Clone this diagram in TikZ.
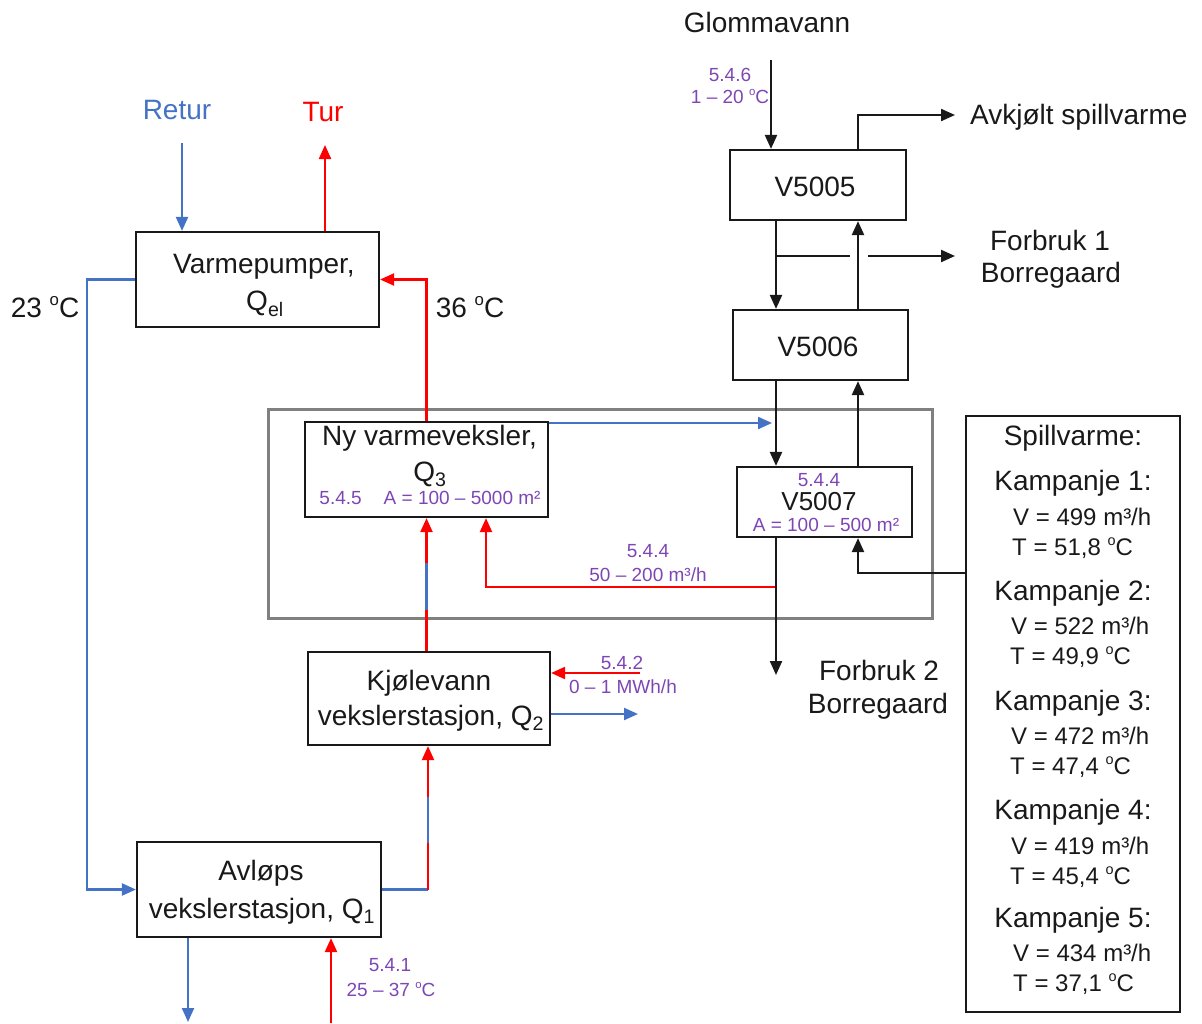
\documentclass[tikz,border=0pt]{standalone}
\usepackage{fontspec}
\setmainfont{Liberation Sans}
\usetikzlibrary{arrows.meta}

\definecolor{flowblue}{RGB}{68,114,196}
\definecolor{flowred}{RGB}{255,0,0}
\definecolor{tagpurple}{RGB}{125,70,180}
\definecolor{ink}{RGB}{25,25,25}
\definecolor{framegray}{RGB}{128,128,128}

% small raised "o" used as degree sign
\newcommand{\degC}{\raisebox{0.42em}{\scalebox{0.6}{o}}C}

\begin{document}
\begin{tikzpicture}[x=1pt,y=-1pt,
  big/.style={font=\fontsize{28}{35}\selectfont, text=ink, inner sep=0pt},
  mid/.style={font=\fontsize{24}{30}\selectfont, text=ink, inner sep=0pt},
  tag/.style={font=\fontsize{19}{23}\selectfont, text=tagpurple, inner sep=0pt},
  unit/.style={draw=ink, line width=2.2pt, inner sep=0pt},
  tip/.style={-{Triangle[length=14pt,width=12pt]}},
  hot/.style={draw=flowred, line width=2.2pt},
  cold/.style={draw=flowblue, line width=2.2pt},
  plain/.style={draw=ink, line width=2.2pt},
]
\useasboundingbox (0,0) rectangle (1202,1023);

% group frame around the new exchanger and V5007
\node[draw=framegray, line width=3pt, inner sep=0pt,
      minimum width=664pt, minimum height=209pt] (grp) at (600,513.5) {};

% ---------- process units ----------
\node[unit, minimum width=243pt, minimum height=95pt] (vp) at (257.5,279.5) {};
\node[big] (vptxt1) at (264,267) {Varmepumper,};
\node[big] (vptxt2) at (265,304) {Q\textsubscript{el}};

\node[unit, minimum width=243pt, minimum height=95pt] (ny) at (426.5,469.5) {};
\node[big] (nytxt1) at (429.5,438) {Ny varmeveksler,};
\node[big] (nytxt2) at (430,474) {Q\textsubscript{3}};
\node[tag] (nytxt3) at (430,498) {5.4.5\hspace{22pt}A = 100 -- 5000 m²};

\node[unit, minimum width=242pt, minimum height=93pt] (kj) at (429,698.5) {};
\node[big] (kjtxt1) at (429,683) {Kjølevann};
\node[big] (kjtxt2) at (431,718) {vekslerstasjon, Q\textsubscript{2}};

\node[unit, minimum width=244pt, minimum height=95pt] (av) at (259,889.5) {};
\node[big] (avtxt1) at (261,873) {Avløps};
\node[big] (avtxt2) at (262,911) {vekslerstasjon, Q\textsubscript{1}};

\node[unit, minimum width=176pt, minimum height=70pt] (v5) at (818,185) {};
\node[big] (v5txt) at (815,187) {V5005};
\node[unit, minimum width=175pt, minimum height=70pt] (v6) at (820.5,345) {};
\node[big] (v6txt) at (818,347) {V5006};
\node[unit, minimum width=175pt, minimum height=70pt] (v7) at (824.5,502) {};
\node[tag] (v7tag) at (819,480) {5.4.4};
\node[big, font=\fontsize{26}{30}\selectfont] (v7txt) at (819,502) {V5007};
\node[tag] (v7area) at (826,525) {A = 100 -- 500 m²};

% ---------- waste heat campaigns ----------
\node[unit, minimum width=214pt, minimum height=596pt] (sv) at (1073,714) {};
\node[big] (svhead) at (1073,438) {Spillvarme:};
\node[big] (k1) at (1073,483) {Kampanje 1:};
\node[mid, anchor=west] (k1v) at (1013,517) {V = 499 m³/h};
\node[mid, anchor=west] (k1t) at (1012,548) {T = 51,8 \degC};
\node[big] (k2) at (1073,593) {Kampanje 2:};
\node[mid, anchor=west] (k2v) at (1011,626) {V = 522 m³/h};
\node[mid, anchor=west] (k2t) at (1010,657) {T = 49,9 \degC};
\node[big] (k3) at (1073,703) {Kampanje 3:};
\node[mid, anchor=west] (k3v) at (1011,736) {V = 472 m³/h};
\node[mid, anchor=west] (k3t) at (1010,767) {T = 47,4 \degC};
\node[big] (k4) at (1073,812) {Kampanje 4:};
\node[mid, anchor=west] (k4v) at (1011,846) {V = 419 m³/h};
\node[mid, anchor=west] (k4t) at (1010,877) {T = 45,4 \degC};
\node[big] (k5) at (1073,920) {Kampanje 5:};
\node[mid, anchor=west] (k5v) at (1013,953) {V = 434 m³/h};
\node[mid, anchor=west] (k5t) at (1013,984) {T = 37,1 \degC};

% ---------- free labels ----------
\node[big, text=flowblue] (retur) at (177,110) {Retur};
\node[big, text=flowred] (tur) at (323,112) {Tur};
\node[big] (t23) at (45,307) {23 \degC};
\node[big] (t36) at (470,307) {36 \degC};
\node[big] (glomma) at (767,22) {Glommavann};
\node[big, anchor=west] (avk) at (970,117) {Avkjølt spillvarme};
\node[big] (f1a) at (1050,240) {Forbruk 1};
\node[big] (f1b) at (1051,275) {Borregaard};
\node[big] (f2a) at (879,670) {Forbruk 2};
\node[big] (f2b) at (878,706) {Borregaard};

\node[tag] (l546a) at (730,75) {5.4.6};
\node[tag] (l546b) at (730,97) {1 -- 20 \degC};
\node[tag] (l544a) at (648,551) {5.4.4};
\node[tag] (l544b) at (648,575) {50 -- 200 m³/h};
\node[tag] (l542a) at (622,663) {5.4.2};
\node[tag] (l542b) at (623,687) {0 -- 1 MWh/h};
\node[tag] (l541a) at (390,965) {5.4.1};
\node[tag] (l541b) at (391,990) {25 -- 37 \degC};

% ---------- end points and columns ----------
\coordinate (returin) at (182,143);
\coordinate (turout) at (325,145);
\coordinate (avdrain) at (188,1022);
\coordinate (sewerin) at (331,1023);
\coordinate (kjin) at (640,673);
\coordinate (kjout) at (638,714);
\coordinate (nyblue) at (772,423);
\coordinate (tap) at (776,587);
\coordinate (nyret) at (486,0);
\coordinate (gin) at (771,60);
\coordinate (down) at (776,0);
\coordinate (up) at (858,0);
\coordinate (avkend) at (955,115);
\coordinate (f1gapa) at (850,256);
\coordinate (f1gapb) at (868,256);
\coordinate (f1end) at (955,256);
\coordinate (f2end) at (776,675);
\coordinate (svtap) at (966,573);
\coordinate (avbend) at (428,889.5);

% ---------- district heating loop ----------
\draw[cold, tip] (returin) -- (returin |- vp.north);
\draw[hot, tip] (turout |- vp.north) -- (turout);
\draw[cold, tip] (vp.west) -- ++(-48,0) |- (av.west);
\draw[hot, tip] (ny.north) |- (vp.east);

% wastewater exchanger to cooling water exchanger
\draw[cold] (av.east) -- (avbend);
\draw[hot, tip] (avbend) -- (avbend |- kj.south);
\draw[cold] (428,843) -- (428,797);
\draw[cold, tip] (avdrain |- av.south) -- (avdrain);
\draw[hot, tip] (sewerin) -- (sewerin |- av.south);

% cooling water exchanger to new exchanger
\draw[hot, tip] (ny.south |- kj.north) -- (ny.south);
\draw[cold] (ny.south |- 0,610) -- (ny.south |- 0,563);
\draw[hot, tip] (kjin) -- (kjin -| kj.east);
\draw[cold, tip] (kjout -| kj.east) -- (kjout);

% new exchanger links to the V5007 line
\draw[cold, tip] (nyblue -| ny.east) -- (nyblue);
\draw[hot, tip] (tap) -| (nyret |- ny.south);

% ---------- Glomma water chain ----------
\draw[plain, tip] (gin) -- (gin |- v5.north);
\draw[plain, tip] (up |- v5.north) |- (avkend);
\draw[plain, tip] (down |- v5.south) -- (down |- v6.north);
\draw[plain, tip] (up |- v6.north) -- (up |- v5.south);
\draw[plain] (down |- f1gapa) -- (f1gapa);
\draw[plain, tip] (f1gapb) -- (f1end);
\draw[plain, tip] (down |- v6.south) -- (down |- v7.north);
\draw[plain, tip] (up |- v7.north) -- (up |- v6.south);
\draw[plain, tip] (down |- v7.south) -- (f2end);
\draw[plain, tip] (svtap) -| (up |- v7.south);

\end{tikzpicture}
\end{document}
